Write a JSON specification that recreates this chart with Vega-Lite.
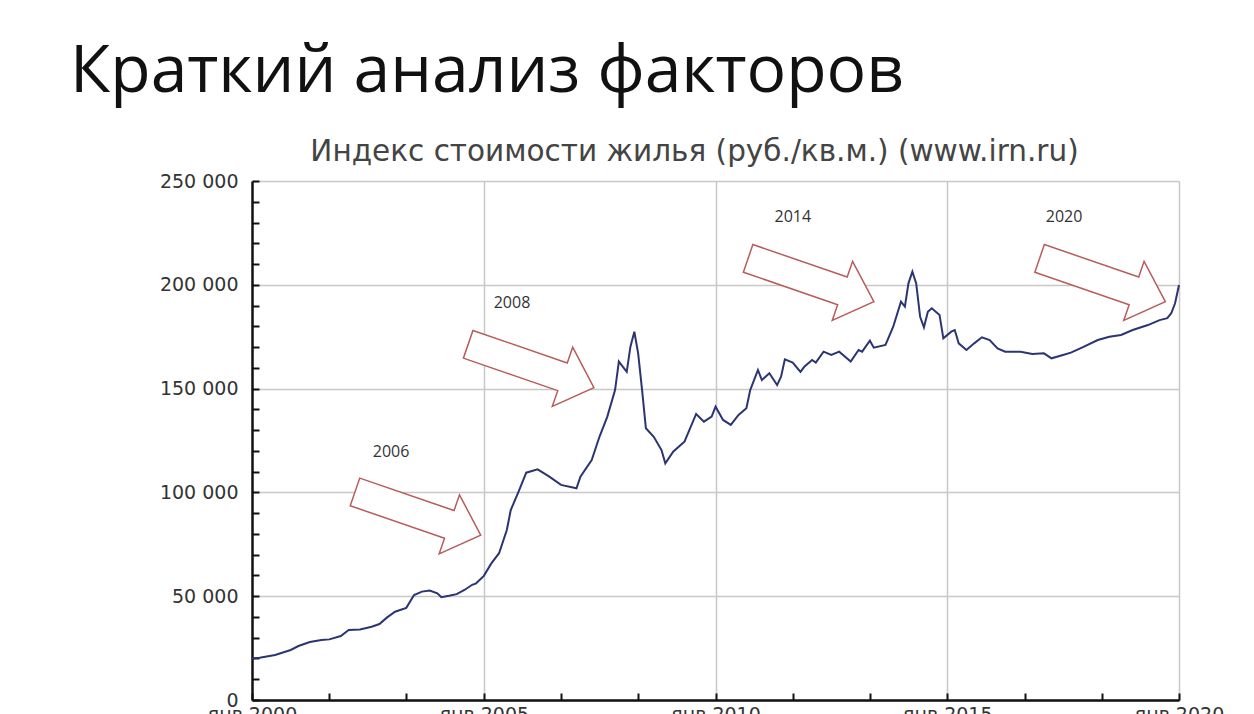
{
  "$schema": "https://vega.github.io/schema/vega-lite/v6.json",
  "width": 927,
  "height": 519,
  "autosize": {"type": "none"},
  "padding": {"left": 252, "top": 181, "right": 75, "bottom": 14},
  "background": "white",
  "title": {
    "text": "Краткий анализ факторов",
    "anchor": "start",
    "frame": "group",
    "font": "Open Sans",
    "fontSize": 66,
    "fontWeight": "normal",
    "color": "#111111",
    "dx": -182,
    "offset": 30
  },
  "config": {"view": {"stroke": null}},
  "resolve": {"axis": {"x": "independent", "y": "independent"}},
  "layer": [
    {
      "data": {"values": [
        {"date": "2003-07-31", "value": 89800},
        {"date": "2006-01-08", "value": 160900},
        {"date": "2012-01-23", "value": 202300},
        {"date": "2018-05-08", "value": 202300}
      ]},
      "mark": {
        "type": "point",
        "shape": "M-1,-0.22L0.5,-0.22L0.5,-0.47L1,0L0.5,0.47L0.5,0.22L-1,0.22Z",
        "size": 17689,
        "angle": 19,
        "filled": true,
        "fill": "white",
        "stroke": "#b85c5c",
        "strokeWidth": 1.5,
        "opacity": 1
      },
      "encoding": {
        "x": {
          "field": "date", "type": "temporal",
          "scale": {"type": "utc", "domain": [{"year": 2000, "month": 1, "date": 1, "utc": true}, {"year": 2020, "month": 1, "date": 1, "utc": true}]},
          "axis": {
            "orient": "top",
            "title": "Индекс стоимости жилья (руб./кв.м.) (www.irn.ru)",
            "labels": false, "ticks": false, "domain": false, "grid": false,
            "titleFont": "DejaVu Sans", "titleFontSize": 29.5, "titleFontWeight": "normal",
            "titleColor": "#444444", "titlePadding": 15, "titleX": 442
          }
        },
        "y": {"field": "value", "type": "quantitative", "title": null, "axis": null}
      }
    },
    {
      "data": {"values": [
        {"date": "2000-01", "value": 20000},
        {"date": "2000-03", "value": 20400},
        {"date": "2000-07", "value": 21700},
        {"date": "2000-11", "value": 24100},
        {"date": "2001-01", "value": 26000},
        {"date": "2001-04", "value": 27900},
        {"date": "2001-07", "value": 28900},
        {"date": "2001-09", "value": 29200},
        {"date": "2001-12", "value": 30800},
        {"date": "2002-02", "value": 33700},
        {"date": "2002-05", "value": 34000},
        {"date": "2002-08", "value": 35300},
        {"date": "2002-10", "value": 36600},
        {"date": "2002-12", "value": 39800},
        {"date": "2003-02", "value": 42500},
        {"date": "2003-05", "value": 44400},
        {"date": "2003-07", "value": 50600},
        {"date": "2003-09", "value": 52200},
        {"date": "2003-11", "value": 52700},
        {"date": "2004-01", "value": 51400},
        {"date": "2004-02", "value": 49500},
        {"date": "2004-04", "value": 50200},
        {"date": "2004-06", "value": 51000},
        {"date": "2004-08", "value": 53000},
        {"date": "2004-10", "value": 55500},
        {"date": "2004-11", "value": 56200},
        {"date": "2005-01", "value": 59800},
        {"date": "2005-03", "value": 65800},
        {"date": "2005-05", "value": 70700},
        {"date": "2005-07", "value": 81900},
        {"date": "2005-08", "value": 91500},
        {"date": "2005-10", "value": 100300},
        {"date": "2005-12", "value": 109500},
        {"date": "2006-03", "value": 111100},
        {"date": "2006-06", "value": 107600},
        {"date": "2006-09", "value": 103600},
        {"date": "2007-01", "value": 102000},
        {"date": "2007-02", "value": 107600},
        {"date": "2007-05", "value": 115600},
        {"date": "2007-07", "value": 126800},
        {"date": "2007-09", "value": 136500},
        {"date": "2007-11", "value": 149300},
        {"date": "2007-12", "value": 163000},
        {"date": "2008-02", "value": 158100},
        {"date": "2008-03", "value": 170200},
        {"date": "2008-04", "value": 177400},
        {"date": "2008-05", "value": 167000},
        {"date": "2008-06", "value": 149300},
        {"date": "2008-07", "value": 130900},
        {"date": "2008-09", "value": 126800},
        {"date": "2008-11", "value": 120400},
        {"date": "2008-12", "value": 114000},
        {"date": "2009-02", "value": 119600},
        {"date": "2009-04", "value": 122800},
        {"date": "2009-05", "value": 124400},
        {"date": "2009-08", "value": 137800},
        {"date": "2009-10", "value": 134100},
        {"date": "2009-12", "value": 136500},
        {"date": "2010-01", "value": 141300},
        {"date": "2010-03", "value": 134900},
        {"date": "2010-05", "value": 132500},
        {"date": "2010-07", "value": 137300},
        {"date": "2010-09", "value": 140500},
        {"date": "2010-10", "value": 149300},
        {"date": "2010-12", "value": 159000},
        {"date": "2011-01", "value": 154100},
        {"date": "2011-03", "value": 157400},
        {"date": "2011-05", "value": 151700},
        {"date": "2011-06", "value": 155700},
        {"date": "2011-07", "value": 164100},
        {"date": "2011-09", "value": 162500},
        {"date": "2011-11", "value": 158100},
        {"date": "2011-12", "value": 160500},
        {"date": "2012-02", "value": 163800},
        {"date": "2012-03", "value": 162500},
        {"date": "2012-05", "value": 167800},
        {"date": "2012-07", "value": 166200},
        {"date": "2012-09", "value": 167800},
        {"date": "2012-12", "value": 163000},
        {"date": "2013-02", "value": 168600},
        {"date": "2013-03", "value": 167800},
        {"date": "2013-05", "value": 173100},
        {"date": "2013-06", "value": 169700},
        {"date": "2013-09", "value": 171000},
        {"date": "2013-11", "value": 179800},
        {"date": "2014-01", "value": 191900},
        {"date": "2014-02", "value": 189500},
        {"date": "2014-03", "value": 200700},
        {"date": "2014-04", "value": 206300},
        {"date": "2014-05", "value": 200700},
        {"date": "2014-06", "value": 184600},
        {"date": "2014-07", "value": 179500},
        {"date": "2014-08", "value": 187000},
        {"date": "2014-09", "value": 188700},
        {"date": "2014-11", "value": 185500},
        {"date": "2014-12", "value": 174200},
        {"date": "2015-02", "value": 177400},
        {"date": "2015-03", "value": 178200},
        {"date": "2015-04", "value": 171800},
        {"date": "2015-06", "value": 168600},
        {"date": "2015-08", "value": 171800},
        {"date": "2015-10", "value": 174700},
        {"date": "2015-12", "value": 173400},
        {"date": "2016-02", "value": 169400},
        {"date": "2016-04", "value": 167800},
        {"date": "2016-08", "value": 167800},
        {"date": "2016-11", "value": 166700},
        {"date": "2017-02", "value": 167000},
        {"date": "2017-04", "value": 164600},
        {"date": "2017-07", "value": 166200},
        {"date": "2017-09", "value": 167300},
        {"date": "2017-12", "value": 169900},
        {"date": "2018-04", "value": 173400},
        {"date": "2018-07", "value": 175000},
        {"date": "2018-10", "value": 175800},
        {"date": "2019-01", "value": 178200},
        {"date": "2019-05", "value": 180600},
        {"date": "2019-08", "value": 183000},
        {"date": "2019-10", "value": 183900},
        {"date": "2019-11", "value": 186300},
        {"date": "2019-12", "value": 191100},
        {"date": "2020-01", "value": 199900}
      ]},
      "mark": {"type": "line", "color": "#2b3573", "strokeWidth": 2},
      "encoding": {
        "x": {
          "field": "date", "type": "temporal",
          "axis": {
            "orient": "bottom",
            "title": null,
            "values": [
              {"year": 2000, "month": 1, "date": 1, "utc": true},
              {"year": 2001, "month": 9, "date": 1, "utc": true},
              {"year": 2003, "month": 5, "date": 1, "utc": true},
              {"year": 2005, "month": 1, "date": 1, "utc": true},
              {"year": 2006, "month": 9, "date": 1, "utc": true},
              {"year": 2008, "month": 5, "date": 1, "utc": true},
              {"year": 2010, "month": 1, "date": 1, "utc": true},
              {"year": 2011, "month": 9, "date": 1, "utc": true},
              {"year": 2013, "month": 5, "date": 1, "utc": true},
              {"year": 2015, "month": 1, "date": 1, "utc": true},
              {"year": 2016, "month": 9, "date": 1, "utc": true},
              {"year": 2018, "month": 5, "date": 1, "utc": true},
              {"year": 2020, "month": 1, "date": 1, "utc": true}
            ],
            "labelExpr": "utcmonth(datum.value) == 0 && utcyear(datum.value) % 5 == 0 ? 'янв ' + utcyear(datum.value) : ''",
            "labelFont": "DejaVu Sans", "labelFontSize": 19, "labelColor": "#333333",
            "labelPadding": 12, "labelFlush": false, "labelOverlap": false, "labelBound": false,
            "tickSize": -7, "tickColor": "#111111", "tickWidth": 2,
            "domainColor": "#111111", "domainWidth": 2.5,
            "grid": true, "gridColor": "#c8c8c8", "gridWidth": 1.5,
            "gridOpacity": {"condition": {"test": "utcmonth(datum.value) == 0 && utcyear(datum.value) > 2000", "value": 1}, "value": 0}
          }
        },
        "y": {
          "field": "value", "type": "quantitative", "title": null,
          "scale": {"domain": [0, 250000], "nice": false},
          "axis": {
            "values": [0, 10000, 20000, 30000, 40000, 50000, 60000, 70000, 80000, 90000, 100000, 110000, 120000, 130000, 140000, 150000, 160000, 170000, 180000, 190000, 200000, 210000, 220000, 230000, 240000, 250000],
            "labelExpr": "datum.value % 50000 == 0 ? replace(format(datum.value, ','), ',', ' ') : ''",
            "labelFont": "DejaVu Sans", "labelFontSize": 19, "labelColor": "#333333",
            "labelPadding": 21, "labelOverlap": false, "labelBound": false, "labelFlush": false,
            "tickSize": -7, "tickColor": "#111111", "tickWidth": 2,
            "domainColor": "#111111", "domainWidth": 2.5,
            "grid": true, "gridColor": "#c8c8c8", "gridWidth": 1.5,
            "gridOpacity": {"condition": {"test": "datum.value % 50000 == 0", "value": 1}, "value": 0}
          }
        }
      }
    },
    {
      "data": {"values": [
        {"date": "2003-01-01", "value": 119500, "label": "2006"},
        {"date": "2005-08-11", "value": 191200, "label": "2008"},
        {"date": "2011-09-02", "value": 232700, "label": "2014"},
        {"date": "2017-07-09", "value": 232700, "label": "2020"}
      ]},
      "mark": {"type": "text", "font": "Open Sans", "fontSize": 16, "color": "#333333", "align": "center", "baseline": "middle"},
      "encoding": {
        "x": {"field": "date", "type": "temporal", "axis": null},
        "y": {"field": "value", "type": "quantitative", "title": null, "axis": null},
        "text": {"field": "label"}
      }
    }
  ]
}
